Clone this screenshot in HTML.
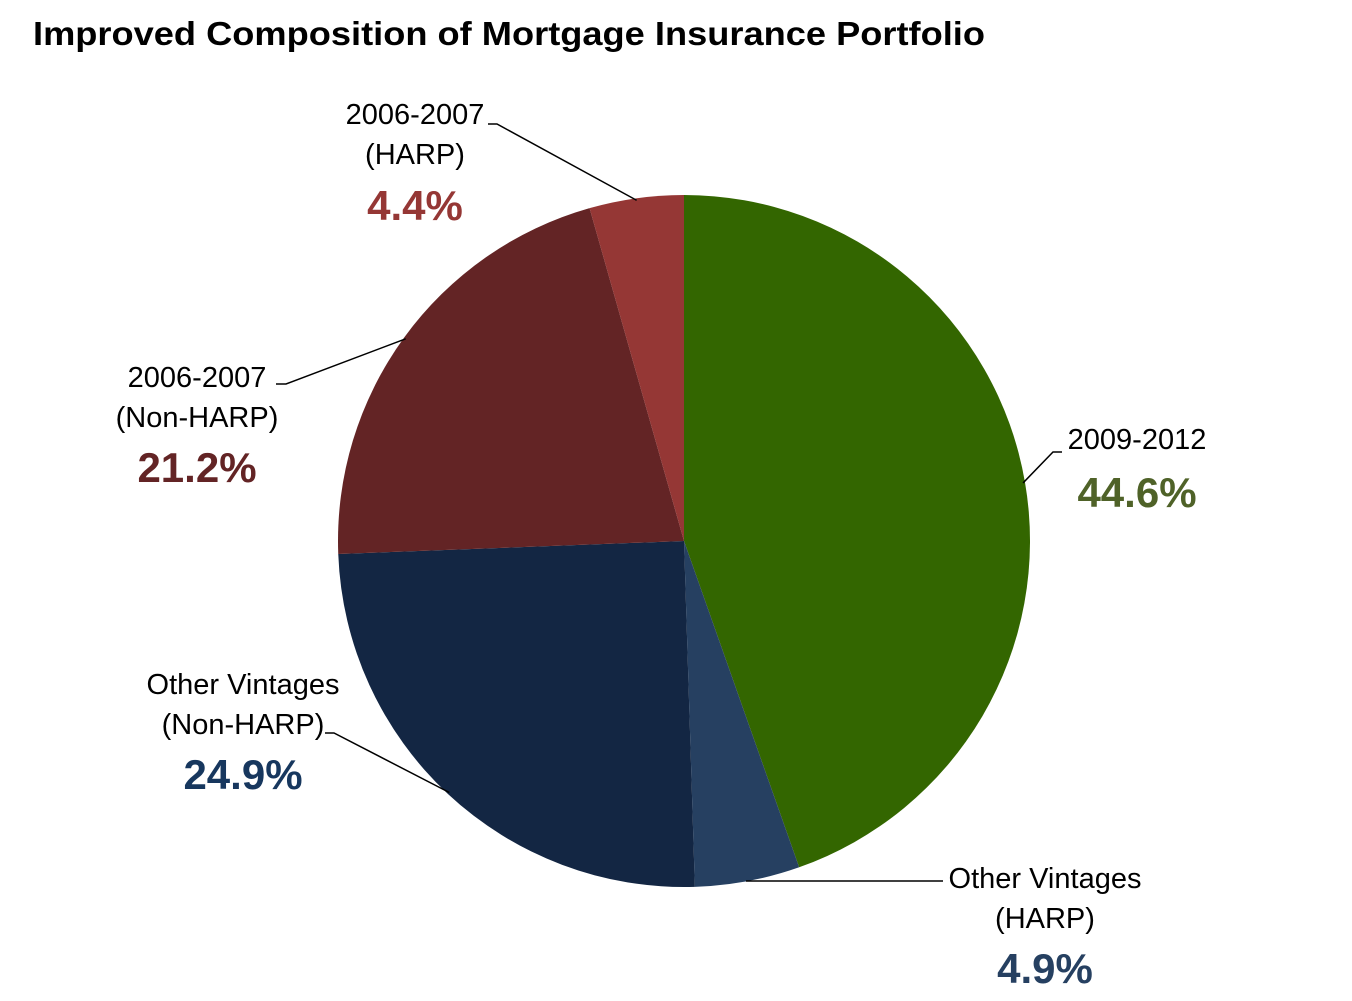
<!DOCTYPE html>
<html><head><meta charset="utf-8">
<style>
html,body{margin:0;padding:0;background:#fff;}
svg{display:block;font-family:"Liberation Sans",sans-serif;}
</style></head>
<body>
<svg id="chart" width="1352" height="1001" viewBox="0 0 1352 1001">
<text x="33" y="45" font-size="33" font-weight="bold" fill="#000" textLength="952" lengthAdjust="spacingAndGlyphs">Improved Composition of Mortgage Insurance Portfolio</text>
<g id="slices"></g>
<g id="labels"></g>
</svg>
<script>
const categories = ["2009-2012", "Other Vintages (HARP)", "Other Vintages (Non-HARP)", "2006-2007 (Non-HARP)", "2006-2007 (HARP)"];
const values = [44.6, 4.9, 24.9, 21.2, 4.4];
const valueLabels = ["44.6%", "4.9%", "24.9%", "21.2%", "4.4%"];
const colors = ["#336600", "#264061", "#132643", "#632425", "#953735"];
const labelColors = ["#4F6228", "#264061", "#17375E", "#632425", "#953735"];
const labelLines = [["2009-2012"], ["Other Vintages", "(HARP)"], ["Other Vintages", "(Non-HARP)"], ["2006-2007", "(Non-HARP)"], ["2006-2007", "(HARP)"]];

const NS = "http://www.w3.org/2000/svg";
const cx = 684, cy = 541, r = 346;
const total = values.reduce((a, b) => a + b, 0);
const slicesG = document.getElementById("slices");
const labelsG = document.getElementById("labels");
function pt(frac, rad) { const a = frac * 2 * Math.PI; return [cx + rad * Math.sin(a), cy - rad * Math.cos(a)]; }

const layout = [
  {x: 1137, y: 449, py: 507, lead: [[1062, 452], [1053, 452]]},
  {x: 1045, y: 888, py: 983, lead: [[943, 881], [760, 881]]},
  {x: 243, y: 694, py: 789, lead: [[325, 733], [334, 733]]},
  {x: 197, y: 387, py: 482, lead: [[276, 384], [286, 384]]},
  {x: 415, y: 124, py: 220, lead: [[488, 124], [497, 124]]}
];

let cum = 0;
values.forEach((v, i) => {
  const f0 = cum / total, f1 = (cum + v) / total;
  const [x0, y0] = pt(f0, r), [x1, y1] = pt(f1, r);
  const large = (f1 - f0) > 0.5 ? 1 : 0;
  const p = document.createElementNS(NS, "path");
  p.setAttribute("d", `M${cx},${cy} L${x0},${y0} A${r},${r} 0 ${large} 1 ${x1},${y1} Z`);
  p.setAttribute("fill", colors[i]);
  
  
  slicesG.appendChild(p);

  const mid = (f0 + f1) / 2;
  const L = layout[i];
  const [ex, ey] = pt(mid, r - 2);
  let endPt = [ex, ey];
  if (i === 1) endPt = [L.lead[1][0] - 14, L.lead[1][1]];
  const pl = document.createElementNS(NS, "polyline");
  pl.setAttribute("points", `${L.lead[0][0]},${L.lead[0][1]} ${L.lead[1][0]},${L.lead[1][1]} ${endPt[0]},${endPt[1]}`);
  pl.setAttribute("fill", "none");
  pl.setAttribute("stroke", "#000");
  pl.setAttribute("stroke-width", "1.5");
  
  
  labelsG.appendChild(pl);

  labelLines[i].forEach((ln, k) => {
    const t = document.createElementNS(NS, "text");
    t.setAttribute("x", L.x);
    t.setAttribute("y", L.y + k * 40);
    t.setAttribute("text-anchor", "middle");
    t.setAttribute("font-size", "29");
    t.setAttribute("fill", "#000");
    t.textContent = ln;
    
    
    labelsG.appendChild(t);
  });
  const tv = document.createElementNS(NS, "text");
  tv.setAttribute("x", L.x);
  tv.setAttribute("y", L.py);
  tv.setAttribute("text-anchor", "middle");
  tv.setAttribute("font-size", "42");
  tv.setAttribute("font-weight", "bold");
  tv.setAttribute("fill", labelColors[i]);
  tv.textContent = valueLabels[i];
  
  
  labelsG.appendChild(tv);
  cum += v;
});
</script>
</body></html>
